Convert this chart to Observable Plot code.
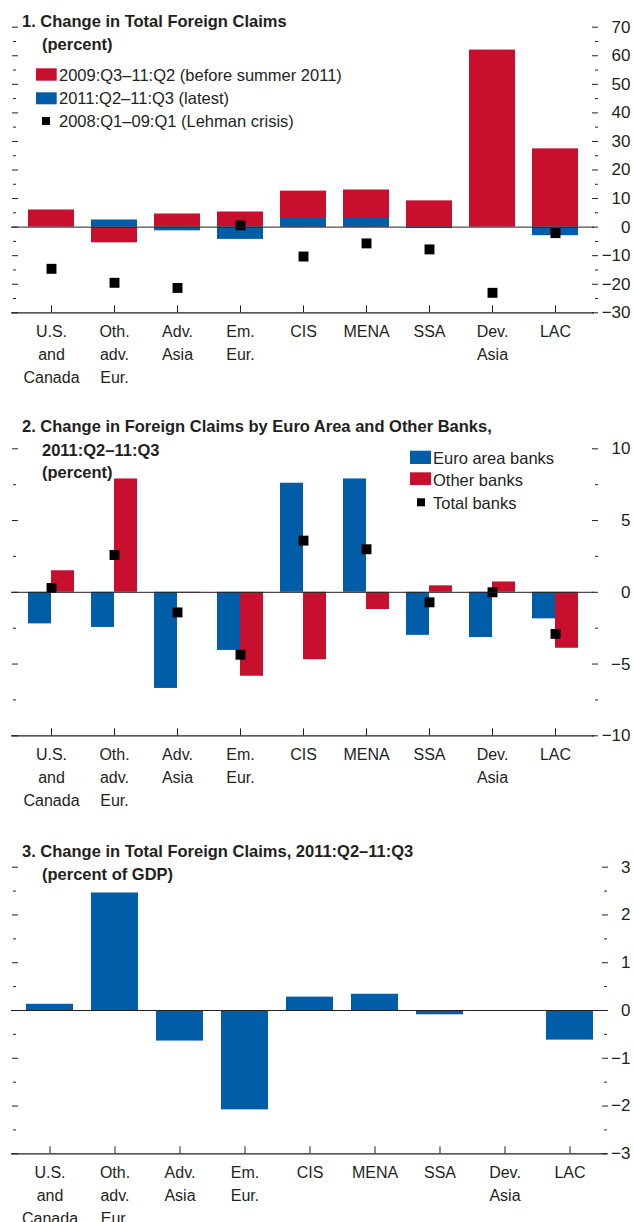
<!DOCTYPE html>
<html><head><meta charset="utf-8">
<script src="https://cdn.jsdelivr.net/npm/d3@7"></script>
<script src="https://cdn.jsdelivr.net/npm/@observablehq/plot@0.6"></script>
<style>
body{margin:0;background:#fff;}
#wrap{position:relative;width:634px;height:1222px;overflow:hidden;background:#fff;}
#wrap > svg, #wrap > figure{position:absolute;left:0;margin:0;}
</style></head><body><div id="wrap"></div>
<script>
// ---------- data ----------
const categories = ["U.S.\nand\nCanada","Oth.\nadv.\nEur.","Adv.\nAsia","Em.\nEur.","CIS","MENA","SSA","Dev.\nAsia","LAC"];
// Panel 1: change in total foreign claims (percent)
const before2011 = [6.0, -5.5, 4.6, 5.3, 12.6, 13.0, 9.2, 62.0, 27.4];   // 2009:Q3–11:Q2
const latest     = [0.0, 2.5, -1.3, -4.3, 3.2, 3.0, -0.5, 0.0, -3.0];     // 2011:Q2–11:Q3
const lehman     = [-14.6, -19.5, -21.3, 0.6, -10.3, -5.7, -7.8, -23.0, -2.1]; // 2008:Q1–09:Q1
// Panel 2: by euro area and other banks (percent)
const euroBanks  = [-2.2, -2.45, -6.7, -4.05, 7.6, 7.9, -3.0, -3.15, -1.85];
const otherBanks = [1.5, 7.9, -0.05, -5.85, -4.7, -1.2, 0.45, 0.72, -3.9];
const totalBanks = [0.3, 2.6, -1.4, -4.35, 3.6, 3.0, -0.7, 0.0, -2.9];
// Panel 3: percent of GDP
const gdpChange  = [0.13, 2.46, -0.64, -2.08, 0.28, 0.34, -0.09, 0.0, -0.62];
// ticks
const ticks1Major = [-30,-20,-10,0,10,20,30,40,50,60,70];
const ticks1Minor = [-25,-15,-5,5,15,25,35,45,55,65];
const ticks2Major = [-10,-5,0,5,10];
const ticks2Minor = [-7.5,-2.5,2.5,7.5];
const ticks3Major = [-3,-2,-1,0,1,2,3];
const ticks3Minor = [-2.5,-1.5,-0.5,0.5,1.5,2.5];

// ---------- style ----------
const FONT = '"Liberation Sans",Arial,Helvetica,sans-serif';
const RED = "#C8102E", BLUE = "#005EA8", INK = "#231f20";
const fmt = d => d < 0 ? "\u2212" + Math.abs(d) : String(d);

function axesMarks(yDomain, major, minor, o) {
  return [
    Plot.ruleY([0], {stroke: INK, strokeWidth: 1}),
    Plot.ruleY([yDomain[0]], {stroke: INK, strokeWidth: 1.3}),
    Plot.axisX({anchor: "bottom", tickSize: 7, dy: -7, tickFormat: () => "", label: null, stroke: INK}),
    Plot.text(categories, {x: d => d, text: d => d, frameAnchor: "bottom", lineAnchor: "top", dy: 8,
      lineHeight: 1.44, fontSize: 16, fill: INK}),
    Plot.axisY(major, {anchor: "right", tickSize: 6, dx: o.majorDx, tickFormat: () => "", label: null, stroke: INK}),
    Plot.axisY(minor, {anchor: "right", tickSize: 3, dx: o.minorDx, tickFormat: () => "", label: null, stroke: INK}),
    Plot.axisY(major, {anchor: "left", tickSize: 6, dx: 7, tickFormat: () => "", label: null, stroke: INK}),
    Plot.axisY(minor, {anchor: "left", tickSize: 3, dx: 5, tickFormat: () => "", label: null, stroke: INK}),
    Plot.text(major, {y: d => d, text: fmt, frameAnchor: "right", textAnchor: "end", dx: o.labelDx,
      fontSize: 17, fill: INK})
  ];
}

function panel(o) {
  const svg = Plot.plot({
    width: 634, height: o.height,
    marginTop: o.marginTop, marginBottom: o.marginBottom, marginLeft: 11, marginRight: o.marginRight,
    style: {fontFamily: FONT, fontSize: "16px", color: INK, background: "transparent", overflow: "visible"},
    x: {domain: categories, paddingInner: o.padIn, paddingOuter: o.padOut, align: 0.5},
    y: {domain: o.yDomain},
    marks: [...o.marks, ...axesMarks(o.yDomain, o.major, o.minor, o)]
  });
  svg.style.top = o.top + "px";
  return svg;
}

const wrap = document.getElementById("wrap");

const rows1 = categories.map((c, i) => ({cat: c, before: before2011[i], latest: latest[i], lehman: lehman[i]}));
wrap.appendChild(panel({
  top: 0, height: 400, marginTop: 26.7, marginBottom: 87.7, marginRight: 40,
  yDomain: [-30, 70], major: ticks1Major, minor: ticks1Minor,
  padIn: 0.27, padOut: 0.26, majorDx: -3, minorDx: 0, labelDx: 36,
  marks: [
    Plot.barY(rows1, {x: "cat", y: "before", fill: RED}),
    Plot.barY(rows1, {x: "cat", y: "latest", fill: BLUE}),
    Plot.dot(rows1, {x: "cat", y: "lehman", symbol: "square", r: 5.6, fill: "#000", stroke: "none"})
  ]
}));

const rows2 = categories.map((c, i) => ({cat: c, euro: euroBanks[i], other: otherBanks[i], total: totalBanks[i]}));
wrap.appendChild(panel({
  top: 400, height: 420, marginTop: 48.3, marginBottom: 84.7, marginRight: 40,
  yDomain: [-10, 10], major: ticks2Major, minor: ticks2Minor,
  padIn: 0.27, padOut: 0.26, majorDx: -3, minorDx: 0, labelDx: 36,
  marks: [
    Plot.barY(rows2, {x: "cat", y: "euro", fill: BLUE, insetRight: 23}),
    Plot.barY(rows2, {x: "cat", y: "other", fill: RED, insetLeft: 23}),
    Plot.dot(rows2, {x: "cat", y: "total", symbol: "square", r: 5.6, fill: "#000", stroke: "none"})
  ]
}));

const rows3 = categories.map((c, i) => ({cat: c, gdp: gdpChange[i]}));
wrap.appendChild(panel({
  top: 820, height: 402, marginTop: 46.7, marginBottom: 68.7, marginRight: 27,
  yDomain: [-3, 3], major: ticks3Major, minor: ticks3Minor,
  padIn: 0.277, padOut: 0.223, majorDx: -6, minorDx: -4, labelDx: 23,
  marks: [
    Plot.barY(rows3, {x: "cat", y: "gdp", fill: BLUE})
  ]
}));

// ---------- titles & legends (overlay) ----------
const ov = d3.select(wrap).append("svg")
  .attr("width", 634).attr("height", 1222)
  .style("position", "absolute").style("top", "0px").style("left", "0px")
  .style("font-family", FONT).style("fill", INK);

const titles = [
  {x: 22, y: 26.7, t: "1. Change in Total Foreign Claims"},
  {x: 42, y: 49.5, t: "(percent)"},
  {x: 22, y: 432, t: "2. Change in Foreign Claims by Euro Area and Other Banks,"},
  {x: 42, y: 456, t: "2011:Q2\u201311:Q3"},
  {x: 42, y: 478, t: "(percent)"},
  {x: 22, y: 857, t: "3. Change in Total Foreign Claims, 2011:Q2\u201311:Q3"},
  {x: 42, y: 880, t: "(percent of GDP)"}
];
ov.selectAll("text.title").data(titles).join("text").attr("class", "title")
  .attr("x", d => d.x).attr("y", d => d.y).text(d => d.t)
  .style("font-weight", "bold").style("font-size", "16.5px");

const legend = [
  {x: 36, y: 68.3, w: 20.7, h: 12.4, c: RED, tx: 59, ty: 81, t: "2009:Q3\u201311:Q2 (before summer 2011)"},
  {x: 36, y: 92.3, w: 20.7, h: 12, c: BLUE, tx: 59, ty: 104, t: "2011:Q2\u201311:Q3 (latest)"},
  {x: 42, y: 117, w: 8, h: 8, c: "#000", tx: 59, ty: 127, t: "2008:Q1\u201309:Q1 (Lehman crisis)"},
  {x: 410, y: 450.7, w: 21, h: 13.3, c: BLUE, tx: 433, ty: 464, t: "Euro area banks"},
  {x: 410, y: 472.3, w: 21, h: 12.7, c: RED, tx: 433, ty: 486, t: "Other banks"},
  {x: 417, y: 498.3, w: 8, h: 8, c: "#000", tx: 433, ty: 508.5, t: "Total banks"}
];
const lg = ov.selectAll("g.lg").data(legend).join("g").attr("class", "lg");
lg.append("rect").attr("x", d => d.x).attr("y", d => d.y).attr("width", d => d.w).attr("height", d => d.h)
  .style("fill", d => d.c);
lg.append("text").attr("x", d => d.tx).attr("y", d => d.ty).text(d => d.t).style("font-size", "16.5px");
</script>
</body></html>
